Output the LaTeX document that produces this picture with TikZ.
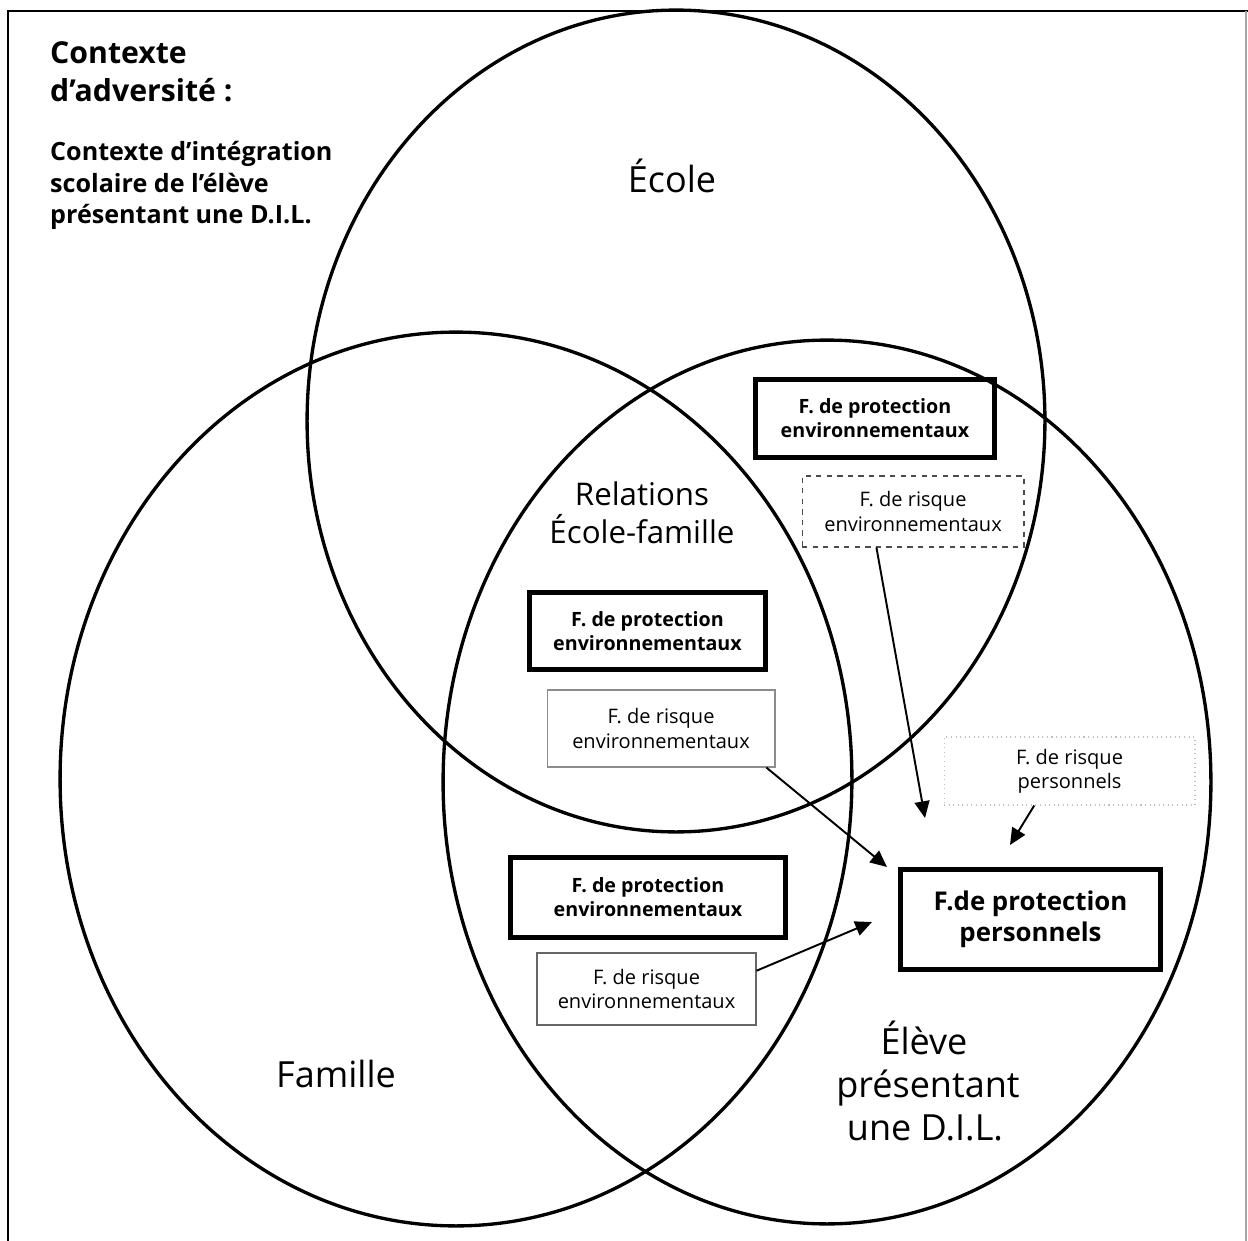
\documentclass[tikz,border=0pt]{standalone}
\usepackage{fontspec}
\setmainfont{Open Sans}
\usetikzlibrary{arrows.meta,calc}
\begin{document}
\begin{tikzpicture}[x=0.02cm,y=-0.02cm,
  ring/.style={line width=1.9pt},
  pbox/.style={draw, line width=2.8pt, align=center, inner sep=0pt,
    font=\bfseries\fontsize{11.2}{13.7}\selectfont},
  rbox/.style={draw=black!45, line width=0.6pt, align=center, inner sep=0pt,
    font=\fontsize{11.4}{13.7}\selectfont},
  arr/.style={line width=1.1pt, -{Triangle[length=9.5pt,width=8.5pt]}},
  biglabel/.style={font=\fontsize{20.5}{25}\selectfont, anchor=base},
  midlabel/.style={font=\fontsize{17.8}{22}\selectfont, anchor=base},
  titletext/.style={font=\bfseries\fontsize{17.2}{23}\selectfont, anchor=base west},
  subtext/.style={font=\bfseries\fontsize{14.3}{18}\selectfont, anchor=base west},
]
\useasboundingbox (0,0) rectangle (1248,1241);

% frame
\draw[line width=1.4pt] (8,1241) -- (8,11) -- (1248,11);
\draw[black!35, line width=0.6pt] (1246,11) -- (1246,1241);

% the three spheres
\draw[ring] (676,421) ellipse [x radius=7.38cm, y radius=8.22cm];
\draw[ring] (456,779) ellipse [x radius=7.92cm, y radius=8.94cm];
\draw[ring] (827,782) ellipse [x radius=7.68cm, y radius=8.84cm];

% heading
\node[titletext] (h1) at (44,63) {Contexte};
\node[titletext] (h2) at (44,101) {d’adversité :};
\node[subtext] (s1) at (44,160) {Contexte d’intégration};
\node[subtext] (s2) at (44,192) {scolaire de l’élève};
\node[subtext] (s3) at (44,223) {présentant une D.I.L.};

% sphere labels
\node[biglabel] (ecole) at (672,192) {École};
\node[midlabel] (rel1) at (642,505) {Relations};
\node[midlabel] (rel2) at (642,543) {École-famille};
\node[biglabel] (famille) at (336,1087) {Famille};
\node[biglabel] (el1) at (924,1054) {Élève};
\node[biglabel] (el2) at (928,1097) {présentant};
\node[biglabel] (el3) at (925,1140) {une D.I.L.};

% factor boxes
\node[pbox, minimum width=4.78cm, minimum height=1.56cm] (p1) at (875,418.5)
  {F. de protection\\environnementaux};
\node[rbox, draw=black!70, dashed, minimum width=4.44cm, minimum height=1.42cm] (r1) at (913,511.5)
  {F. de risque\\environnementaux};
\node[pbox, minimum width=4.72cm, minimum height=1.54cm] (p2) at (647.5,631)
  {F. de protection\\environnementaux};
\node[rbox, minimum width=4.56cm, minimum height=1.54cm] (r2) at (661,728.5)
  {F. de risque\\environnementaux};
\node[pbox, minimum width=5.5cm, minimum height=1.6cm] (p3) at (648,897.5)
  {F. de protection\\environnementaux};
\node[rbox, draw=black!60, minimum width=4.38cm, minimum height=1.44cm] (r3) at (646.5,989)
  {F. de risque\\environnementaux};
\node[rbox, draw=black!25, dotted, minimum width=5.02cm, minimum height=1.36cm] (rp) at (1069.5,771)
  {F. de risque\\personnels};
\node[pbox, minimum width=5.2cm, minimum height=2.0cm,
  font=\bfseries\fontsize{14.7}{17.5}\selectfont] (pp) at (1030.5,919.5)
  {F.de protection\\personnels};

% arrow ends
\coordinate (e1) at (925,818);
\coordinate (e2) at (887,867);
\coordinate (e3) at (872,922);
\coordinate (e4) at (1010,845);

\draw[arr] ($(r1.south west)!0.336!(r1.south east)$) -- (e1);
\draw[arr] ($(r2.south west)!0.96!(r2.south east)$) -- (e2);
\draw[arr] ($(r3.north east)!0.25!(r3.south east)$) -- (e3);
\draw[arr] ($(rp.south west)!0.36!(rp.south east)$) -- (e4);
\end{tikzpicture}
\end{document}
